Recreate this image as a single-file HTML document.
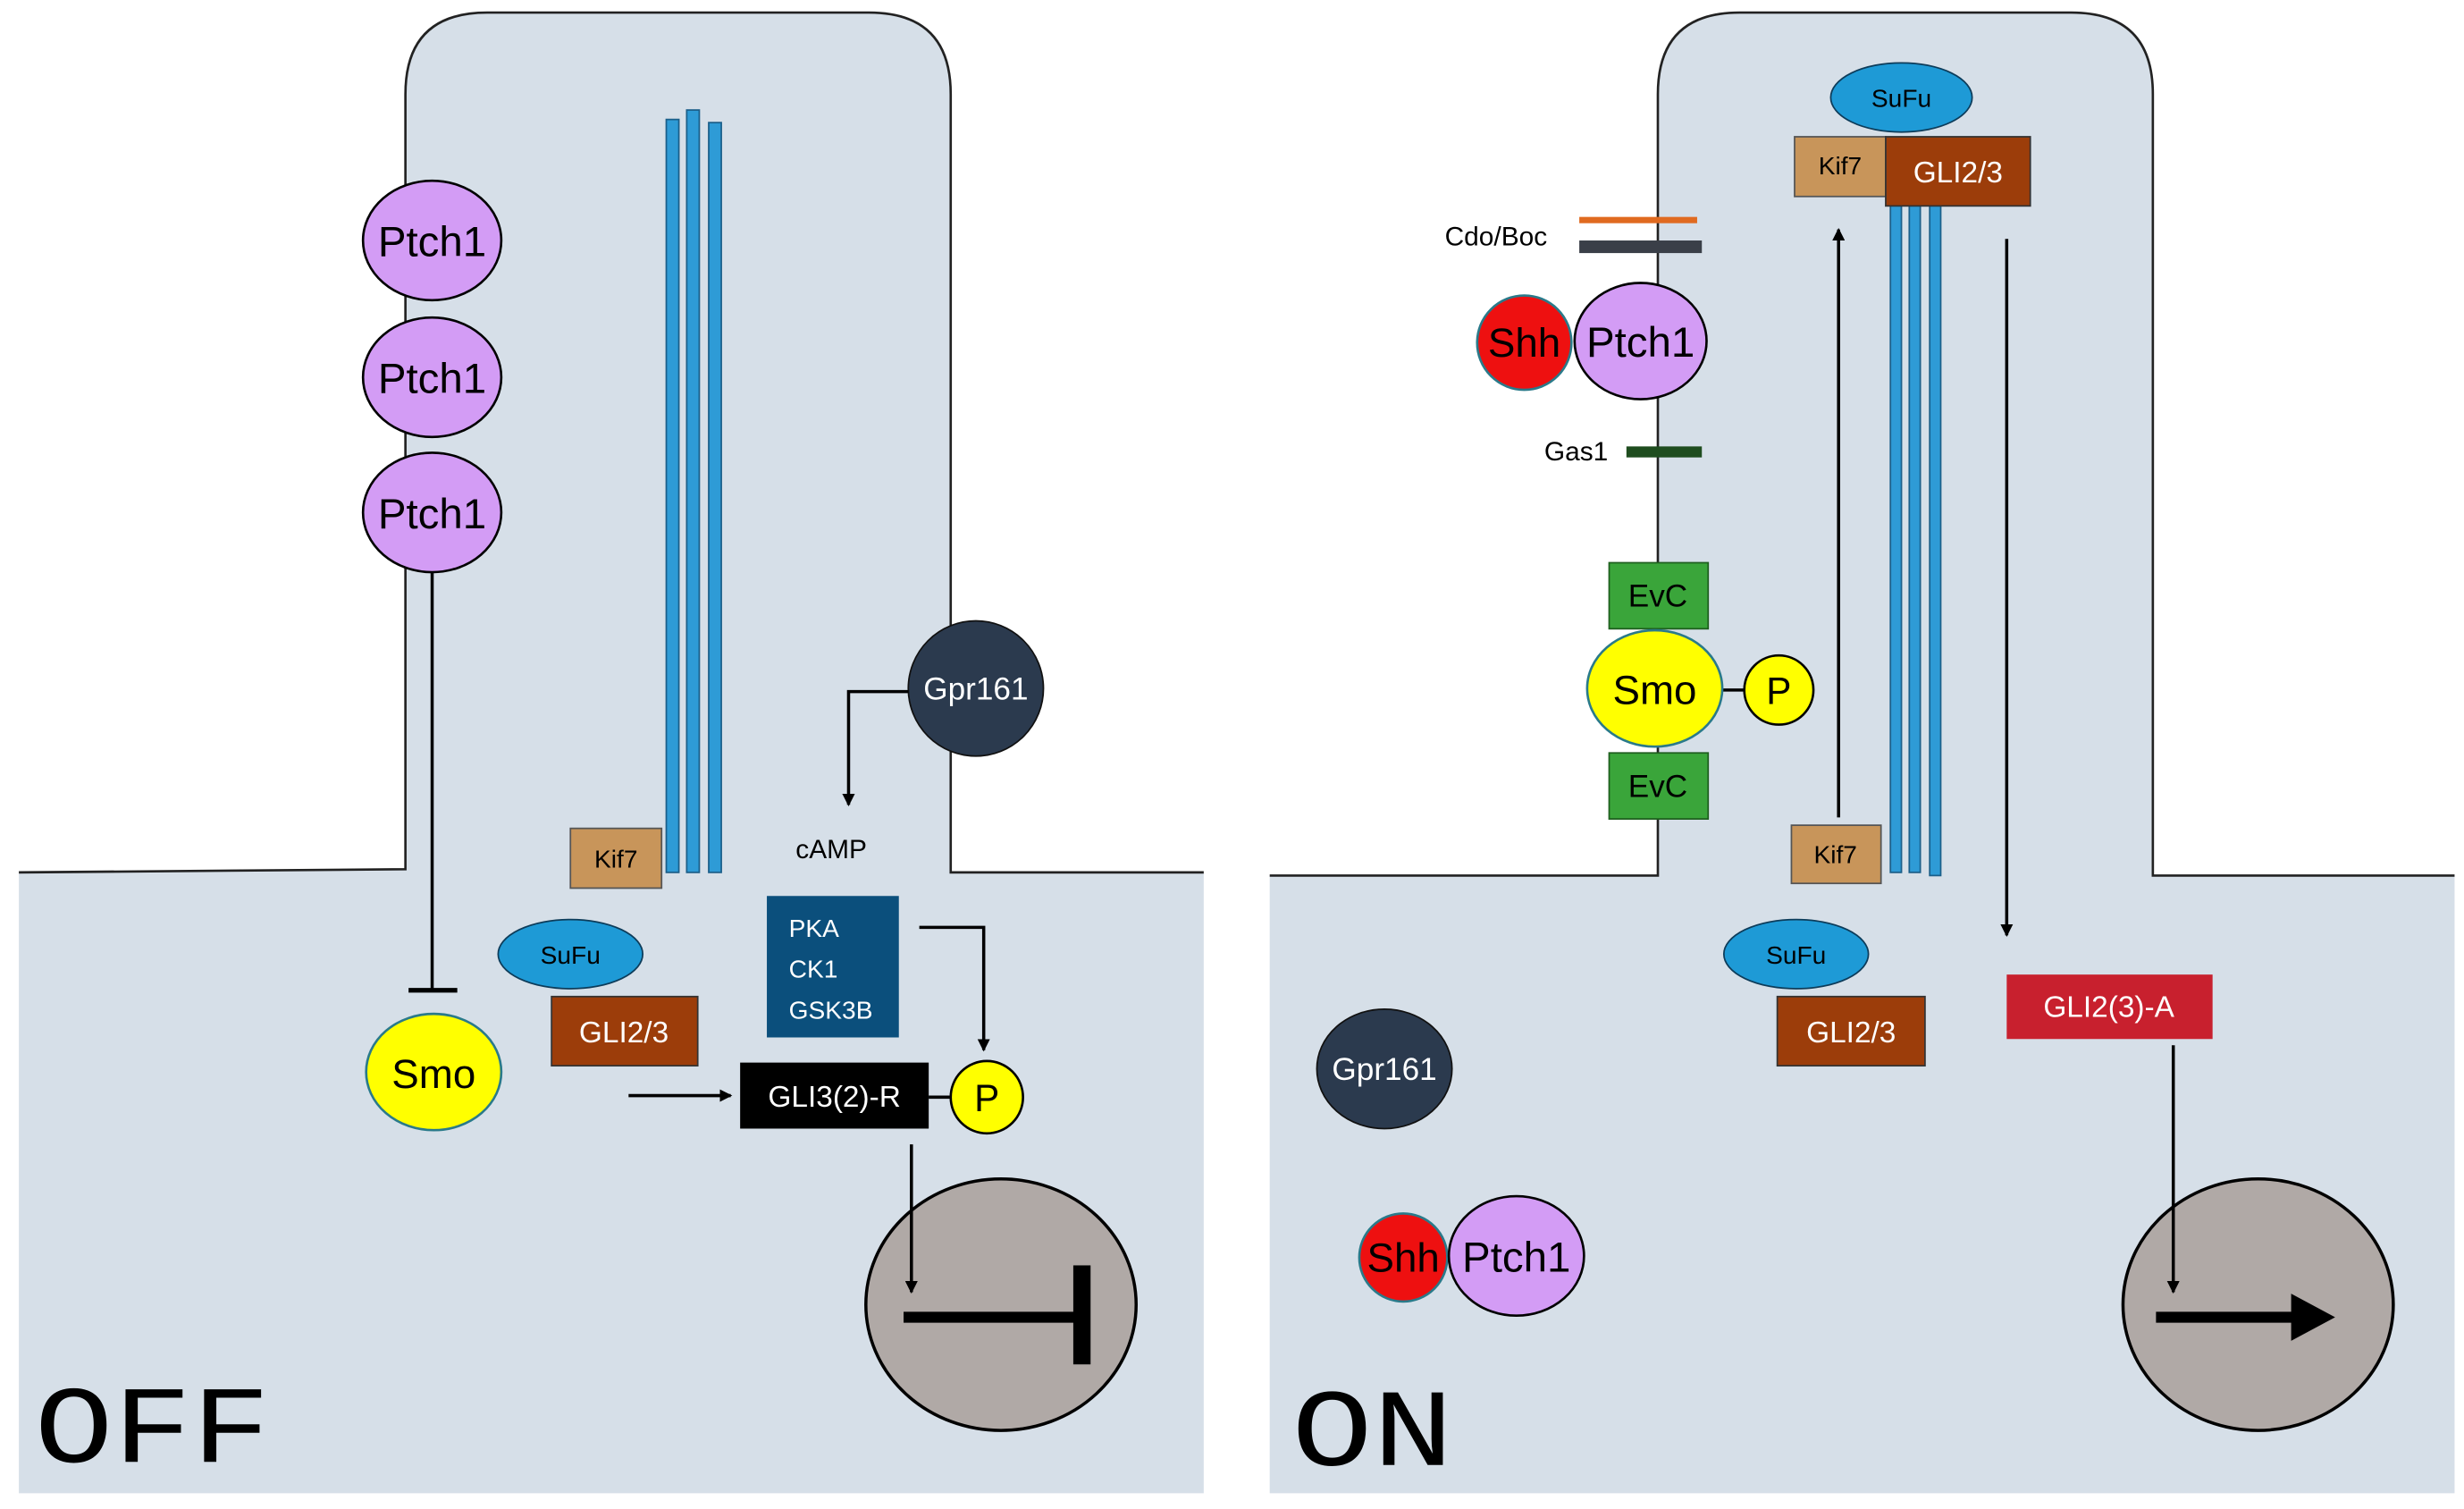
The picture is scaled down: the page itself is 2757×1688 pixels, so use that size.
<!DOCTYPE html>
<html><head><meta charset="utf-8"><style>
html,body{margin:0;padding:0;background:#fff}
svg{display:block}
text{font-family:"Liberation Sans",sans-serif}
</style></head><body>
<svg width="2757" height="1688" viewBox="0 0 1568 960" preserveAspectRatio="none" xmlns="http://www.w3.org/2000/svg">
<defs>
<marker id="ah" markerWidth="8" markerHeight="8" refX="7" refY="4" orient="auto" markerUnits="userSpaceOnUse"><path d="M0,0 L8,4 L0,8 z" fill="#000"/></marker>
</defs>
<rect width="1568" height="960" fill="#fff"/>
<path d="M12,555 L258,553 L258,60 Q258,8 310,8 L553,8 Q605,8 605,60 L605,555 L766,555 L766,950 L12,950 Z" fill="#d6dfe8"/>
<path d="M12,555 L258,553 L258,60 Q258,8 310,8 L553,8 Q605,8 605,60 L605,555 L766,555" fill="none" stroke="#222" stroke-width="1.5"/>
<path d="M808,557 L1055,557 L1055,60 Q1055,8 1107,8 L1318,8 Q1370,8 1370,60 L1370,557 L1562,557 L1562,950 L808,950 Z" fill="#d6dfe8"/>
<path d="M808,557 L1055,557 L1055,60 Q1055,8 1107,8 L1318,8 Q1370,8 1370,60 L1370,557 L1562,557" fill="none" stroke="#222" stroke-width="1.5"/>

<g stroke="#1b5f8a" stroke-width="1" fill="#2e9bd6">
<rect x="424" y="76" width="8" height="479"/><rect x="437" y="70" width="8" height="485"/><rect x="451" y="78" width="8" height="477"/>
<rect x="1203" y="122" width="7" height="433"/><rect x="1215" y="122" width="7" height="433"/><rect x="1228" y="122" width="7" height="435"/>
</g>

<ellipse cx="637" cy="830" rx="86" ry="80" fill="#b0a9a6" stroke="#000" stroke-width="2"/>
<ellipse cx="1437" cy="830" rx="86" ry="80" fill="#b0a9a6" stroke="#000" stroke-width="2"/>

<g stroke="#000" stroke-width="1.5" fill="#d39cf5">
<ellipse cx="275" cy="153" rx="44" ry="38"/><ellipse cx="275" cy="240" rx="44" ry="38"/><ellipse cx="275" cy="326" rx="44" ry="38"/>
</g>
<g font-size="27" text-anchor="middle" fill="#000">
<text x="275" y="163">Ptch1</text><text x="275" y="250">Ptch1</text><text x="275" y="336">Ptch1</text>
</g>
<line x1="275" y1="364" x2="275" y2="630" stroke="#000" stroke-width="2"/>
<line x1="260" y1="630" x2="291" y2="630" stroke="#000" stroke-width="3"/>
<ellipse cx="276" cy="682" rx="43" ry="37" fill="#ffff00" stroke="#2a7a8a" stroke-width="1.5"/>
<text x="276" y="692" font-size="26" text-anchor="middle">Smo</text>

<rect x="363" y="527" width="58" height="38" fill="#c8955a" stroke="#555"/>
<text x="392" y="552" font-size="16" text-anchor="middle">Kif7</text>
<ellipse cx="363" cy="607" rx="46" ry="22" fill="#1e9ad6" stroke="#0d3c5a"/>
<text x="363" y="613" font-size="16" text-anchor="middle">SuFu</text>
<rect x="351" y="634" width="93" height="44" fill="#9c3d0a" stroke="#333"/>
<text x="397" y="663" font-size="19" text-anchor="middle" fill="#fff">GLI2/3</text>
<line x1="400" y1="697" x2="465" y2="697" stroke="#000" stroke-width="2" marker-end="url(#ah)"/>
<rect x="471" y="676" width="120" height="42" fill="#000"/>
<text x="531" y="704" font-size="19" text-anchor="middle" fill="#fff">GLI3(2)-R</text>
<line x1="591" y1="698" x2="606" y2="698" stroke="#000" stroke-width="2"/>
<circle cx="628" cy="698" r="23" fill="#ffff00" stroke="#000" stroke-width="1.5"/>
<text x="628" y="707" font-size="24" text-anchor="middle">P</text>

<circle cx="621" cy="438" r="43" fill="#2b3a4e" stroke="#111"/>
<text x="621" y="445" font-size="20" text-anchor="middle" fill="#fff">Gpr161</text>
<polyline points="578,440 540,440 540,512" fill="none" stroke="#000" stroke-width="2" marker-end="url(#ah)"/>
<text x="529" y="546" font-size="17" text-anchor="middle">cAMP</text>
<rect x="488" y="570" width="84" height="90" fill="#0b4f7c"/>
<g font-size="16" fill="#fff"><text x="502" y="596">PKA</text><text x="502" y="622">CK1</text><text x="502" y="648">GSK3B</text></g>
<polyline points="585,590 626,590 626,668" fill="none" stroke="#000" stroke-width="2" marker-end="url(#ah)"/>
<line x1="580" y1="728" x2="580" y2="822" stroke="#000" stroke-width="2" marker-end="url(#ah)"/>
<line x1="575" y1="838" x2="686" y2="838" stroke="#000" stroke-width="7"/>
<rect x="683" y="805" width="11" height="63" fill="#000"/>
<text x="22" y="930" style="font-family:'Liberation Mono',monospace" font-size="70" textLength="150" lengthAdjust="spacingAndGlyphs" fill="#000">OFF</text>

<ellipse cx="1210" cy="62" rx="45" ry="22" fill="#1e9ad6" stroke="#0d3c5a"/>
<text x="1210" y="68" font-size="16" text-anchor="middle">SuFu</text>
<rect x="1142" y="87" width="58" height="38" fill="#c8955a" stroke="#555"/>
<text x="1171" y="111" font-size="16" text-anchor="middle">Kif7</text>
<rect x="1200" y="87" width="92" height="44" fill="#9c3d0a" stroke="#333"/>
<text x="1246" y="116" font-size="19" text-anchor="middle" fill="#fff">GLI2/3</text>
<line x1="1170" y1="520" x2="1170" y2="146" stroke="#000" stroke-width="2" marker-end="url(#ah)"/>
<line x1="1277" y1="152" x2="1277" y2="595" stroke="#000" stroke-width="2" marker-end="url(#ah)"/>
<text x="952" y="156" font-size="17" text-anchor="middle">Cdo/Boc</text>
<rect x="1005" y="138" width="75" height="4" fill="#e06a20"/>
<rect x="1005" y="153" width="78" height="8" fill="#3a3f48"/>
<circle cx="970" cy="218" r="30" fill="#ee1010" stroke="#2a7a8a" stroke-width="1.5"/>
<text x="970" y="227" font-size="26" text-anchor="middle">Shh</text>
<ellipse cx="1044" cy="217" rx="42" ry="37" fill="#d39cf5" stroke="#000" stroke-width="1.5"/>
<text x="1044" y="227" font-size="27" text-anchor="middle">Ptch1</text>
<text x="1003" y="293" font-size="17" text-anchor="middle">Gas1</text>
<rect x="1035" y="284" width="48" height="7" fill="#1f4d1f"/>
<rect x="1024" y="358" width="63" height="42" fill="#3aa53a" stroke="#1f5f1f"/>
<text x="1055" y="386" font-size="20" text-anchor="middle">EvC</text>
<rect x="1024" y="479" width="63" height="42" fill="#3aa53a" stroke="#1f5f1f"/>
<text x="1055" y="507" font-size="20" text-anchor="middle">EvC</text>
<line x1="1096" y1="439" x2="1110" y2="439" stroke="#000" stroke-width="2"/>
<ellipse cx="1053" cy="438" rx="43" ry="37" fill="#ffff00" stroke="#2a7a8a" stroke-width="1.5"/>
<text x="1053" y="448" font-size="26" text-anchor="middle">Smo</text>
<circle cx="1132" cy="439" r="22" fill="#ffff00" stroke="#000" stroke-width="1.5"/>
<text x="1132" y="448" font-size="24" text-anchor="middle">P</text>
<rect x="1140" y="525" width="57" height="37" fill="#c8955a" stroke="#555"/>
<text x="1168" y="549" font-size="16" text-anchor="middle">Kif7</text>
<ellipse cx="1143" cy="607" rx="46" ry="22" fill="#1e9ad6" stroke="#0d3c5a"/>
<text x="1143" y="613" font-size="16" text-anchor="middle">SuFu</text>
<rect x="1131" y="634" width="94" height="44" fill="#9c3d0a" stroke="#333"/>
<text x="1178" y="663" font-size="19" text-anchor="middle" fill="#fff">GLI2/3</text>
<rect x="1277" y="620" width="131" height="41" fill="#c8202e"/>
<text x="1342" y="647" font-size="19" text-anchor="middle" fill="#fff">GLI2(3)-A</text>
<line x1="1383" y1="665" x2="1383" y2="822" stroke="#000" stroke-width="2" marker-end="url(#ah)"/>
<line x1="1372" y1="838" x2="1462" y2="838" stroke="#000" stroke-width="7"/>
<path d="M1458,823 L1486,838 L1458,853 z" fill="#000"/>
<ellipse cx="881" cy="680" rx="43" ry="38" fill="#2b3a4e" stroke="#111"/>
<text x="881" y="687" font-size="20" text-anchor="middle" fill="#fff">Gpr161</text>
<circle cx="893" cy="800" r="28" fill="#ee1010" stroke="#2a7a8a" stroke-width="1.5"/>
<text x="893" y="809" font-size="26" text-anchor="middle">Shh</text>
<ellipse cx="965" cy="799" rx="43" ry="38" fill="#d39cf5" stroke="#000" stroke-width="1.5"/>
<text x="965" y="809" font-size="27" text-anchor="middle">Ptch1</text>
<text x="822" y="932" style="font-family:'Liberation Mono',monospace" font-size="70" textLength="103" lengthAdjust="spacingAndGlyphs" fill="#000">ON</text>
</svg>
</body></html>
